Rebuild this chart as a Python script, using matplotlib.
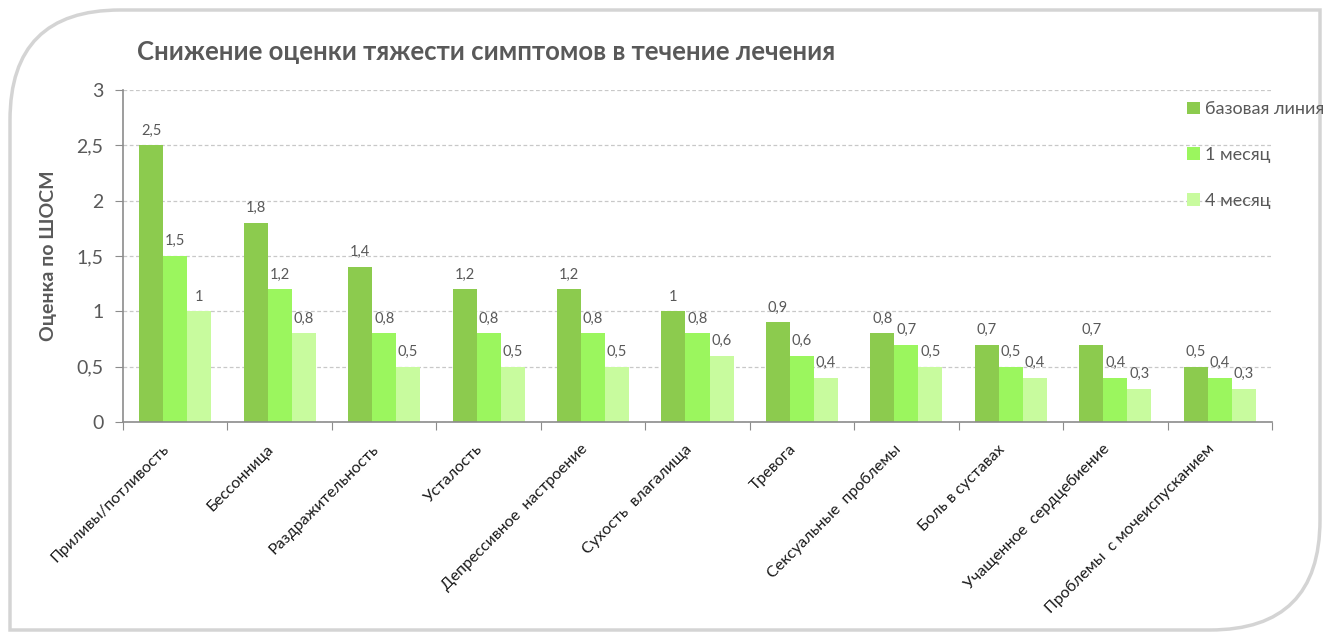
import matplotlib
matplotlib.use("Agg")
import matplotlib.pyplot as plt
import matplotlib.transforms as mtrans
import numpy as np
from matplotlib.patches import Patch, PathPatch
from matplotlib.path import Path

# данные графика
symptoms = ["Приливы/потливость", "Бессонница", "Раздражительность", "Усталость",
            "Депрессивное  настроение", "Сухость  влагалища", "Тревога",
            "Сексуальные  проблемы", "Боль в суставах", "Учащенное  сердцебиение",
            "Проблемы  с мочеиспусканием"]
baseline = [2.5, 1.8, 1.4, 1.2, 1.2, 1.0, 0.9, 0.8, 0.7, 0.7, 0.5]
month1 = [1.5, 1.2, 0.8, 0.8, 0.8, 0.8, 0.6, 0.7, 0.5, 0.4, 0.4]
month4 = [1.0, 0.8, 0.5, 0.5, 0.5, 0.6, 0.4, 0.5, 0.4, 0.3, 0.3]
series_names = ["базовая линия", "1 месяц", "4 месяц"]
colors = ["#8CCB4E", "#9BF65E", "#C8FB9E"]
yticks = [0, 0.5, 1, 1.5, 2, 2.5, 3]

plt.rcParams['font.family'] = ['Lato', 'DejaVu Sans']
txt = "#595959"

W, H = 1327, 639
fig = plt.figure(figsize=(W / 100, H / 100), dpi=100)

def fx(px):
    return px / W

def fy(py):
    return 1 - py / H

# рамка-карточка со скругленными углами
r = 110
verts = [(fx(10), fy(630)), (fx(10), fy(10 + r)), (fx(10), fy(10)), (fx(10 + r), fy(10)),
         (fx(1320), fy(10)), (fx(1320), fy(630 - r)), (fx(1320), fy(630)), (fx(1320 - r), fy(630)),
         (fx(10), fy(630))]
codes = [Path.MOVETO, Path.LINETO, Path.CURVE3, Path.CURVE3,
         Path.LINETO, Path.LINETO, Path.CURVE3, Path.CURVE3, Path.CLOSEPOLY]
card = PathPatch(Path(verts, codes), transform=fig.transFigure, facecolor="white",
                 edgecolor="#d4d4d4", lw=2.5, zorder=-5)
fig.patches.append(card)

ax = fig.add_axes([fx(123), fy(422), fx(1272) - fx(123), fy(90) - fy(422)])
ax.set_facecolor("none")
ax.set_zorder(2)

x = np.arange(len(symptoms))
w = 0.23
for i, (vals, c) in enumerate(zip([baseline, month1, month4], colors)):
    pos = x + (i - 1) * w
    ax.bar(pos, vals, width=w, color=c, zorder=2)
    for p, v in zip(pos, vals):
        lab = ("%g" % v).replace(".", ",")
        ax.text(p, v + 0.07, lab, ha="center", va="bottom", fontsize=10.5, color=txt, zorder=3)

ax.set_xlim(-0.5, len(symptoms) - 0.5)
ax.set_ylim(0, 3)
ax.set_yticks(yticks)
ax.set_yticklabels([("%g" % t).replace(".", ",") for t in yticks], fontsize=14, color=txt)
ax.yaxis.grid(True, linestyle=(0, (3, 2)), color="#c8c8c8", lw=0.9, zorder=0)
ax.set_axisbelow(True)
ax.set_xticks(np.arange(len(symptoms) + 1) - 0.5)
ax.set_xticklabels([])

# подписи категорий под углом 45°
shift = mtrans.ScaledTranslation(-0.13, -0.2, fig.dpi_scale_trans)
for xi, name in zip(x, symptoms):
    ax.text(xi, 0, name, transform=ax.get_xaxis_transform() + shift, rotation=45,
            ha="right", va="top", rotation_mode="anchor", fontsize=11.5, color="#1a1a1a",
            clip_on=False)

ax.tick_params(axis="x", which="major", length=6, color="#8c8c8c", direction="out")
ax.tick_params(axis="y", length=6, color="#8c8c8c", direction="out", pad=8)
for s in ["top", "right"]:
    ax.spines[s].set_visible(False)
for s in ["left", "bottom"]:
    ax.spines[s].set_color("#8c8c8c")
    ax.spines[s].set_linewidth(1.2)

ax.set_ylabel("Оценка по ШОСМ", fontsize=14, fontweight="bold", color=txt, labelpad=14)

fig.text(fx(137), fy(52), "Снижение оценки тяжести симптомов в течение лечения",
         fontsize=18.5, fontweight="bold", color=txt, va="center")

handles = [Patch(facecolor=c, edgecolor="none") for c in colors]
leg = fig.legend(handles, series_names, loc="upper left", bbox_to_anchor=(fx(1180), fy(94)),
                 frameon=False, fontsize=13, handlelength=0.7, handleheight=0.7,
                 handletextpad=0.3, labelspacing=1.65, borderaxespad=0)
for t in leg.get_texts():
    t.set_color(txt)

fig.savefig("out.png", dpi=100)
